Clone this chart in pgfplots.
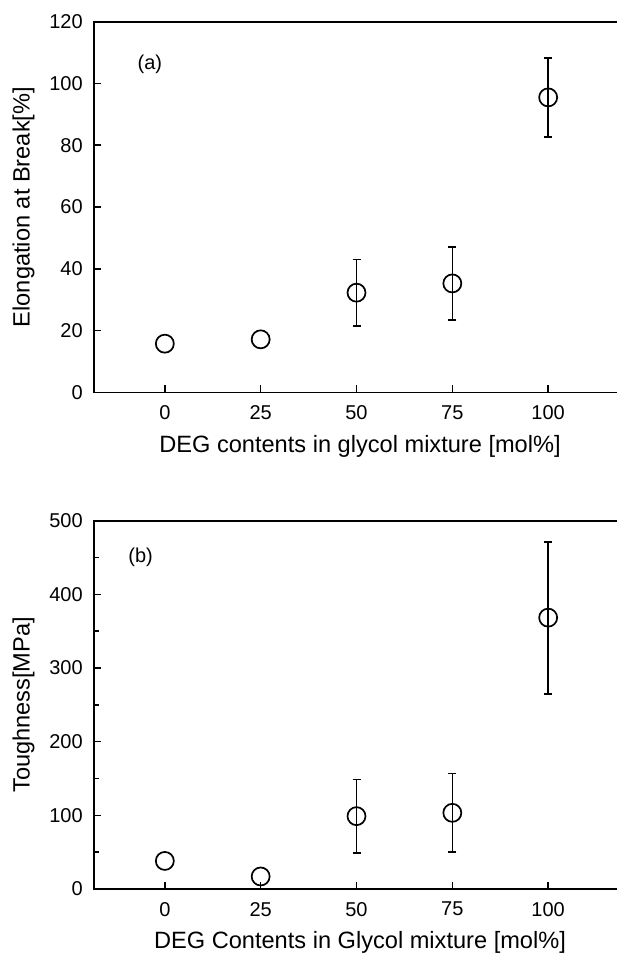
\documentclass[border=0pt]{standalone}
\usepackage{fontspec}
\setmainfont{Liberation Sans}
\usepackage{pgfplots}
\usepackage{pgfplotstable}
\pgfplotsset{compat=1.18}

\pgfplotstableread{
x y ep em
0 15.8 0 0
25 17.2 0 0
50 32.3 10.8 10.7
75 35.3 11.7 11.8
100 95.5 12.8 12.8
}\dataA

\pgfplotstableread{
x y ep em
0 38.1 0 0
25 17.0 0 0
50 98.9 49.9 50.4
75 103.4 53.6 53.5
100 368.4 103.0 103.4
}\dataB

\pgfplotsset{
  panel/.style={
    scale only axis,
    anchor=south west,
    width=262.2pt,
    xmin=-18.4, xmax=118.4,
    xtick={0,25,50,75,100},
    tick align=inside,
    xtick pos=left, ytick pos=left,
    axis line style={line width=0.85pt},
    every tick/.style={black, line width=0.8pt},
    major tick length=3.5pt,
    minor tick length=2.5pt,
    tick label style={font=\fontsize{10}{12}\selectfont},
    x tick label style={yshift=-3pt},
    y tick label style={xshift=-2.3pt},
    /pgf/number format/assume math mode=true,
    every axis y label/.style={at={(axis description cs:-0.1348,0.5)}, rotate=90, anchor=center, font=\fontsize{11.8}{14}\selectfont},
    every axis x label/.style={at={(axis description cs:0.5067,-0.1613)}, anchor=base, font=\fontsize{11.8}{14}\selectfont},
    clip=false,
  },
  bars/.style={
    black, draw=none, mark=none, forget plot,
    error bars/.cd, y dir=both, y explicit,
    error bar style={line width=0.8pt, solid},
    error mark options={rotate=90, mark size=2pt, line width=0.8pt},
  },
  pts/.style={
    only marks, black,
    mark=o, mark size=4.5pt,
    mark options={fill=white, line width=0.85pt},
  },
}

\begin{document}
\begin{tikzpicture}[x=1pt,y=1pt]
\begin{axis}[panel,
  at={(47.15pt,280.25pt)},
  height=185.4pt,
  ymin=0, ymax=120,
  ytick={0,20,40,60,80,100,120},
  ylabel={Elongation at Break[\%]},
  xlabel={DEG contents in glycol mixture [mol\%]},
]
\addplot[bars] table[x=x, y=y, y error plus=ep, y error minus=em, skip coords between index={0}{2}] {\dataA};
\addplot[pts] table[x=x, y=y] {\dataA};
\node[font=\fontsize{10}{12}\selectfont] at (axis cs:-3.9,106.3) {(a)};
\end{axis}

\begin{axis}[panel,
  at={(47.15pt,32pt)},
  height=184.15pt,
  ymin=0, ymax=500,
  ytick={0,100,200,300,400,500},
  minor ytick={50,150,250,350,450},
  ylabel={Toughness[MPa]},
  xlabel={DEG Contents in Glycol mixture [mol\%]},
]
\addplot[bars] table[x=x, y=y, y error plus=ep, y error minus=em, skip coords between index={0}{2}] {\dataB};
\addplot[pts] table[x=x, y=y] {\dataB};
\node[font=\fontsize{10}{12}\selectfont] at (axis cs:-6.3,450.7) {(b)};
\end{axis}
\pgfresetboundingbox
\useasboundingbox (0,0) rectangle (308pt,476.5pt);
\end{tikzpicture}
\end{document}
